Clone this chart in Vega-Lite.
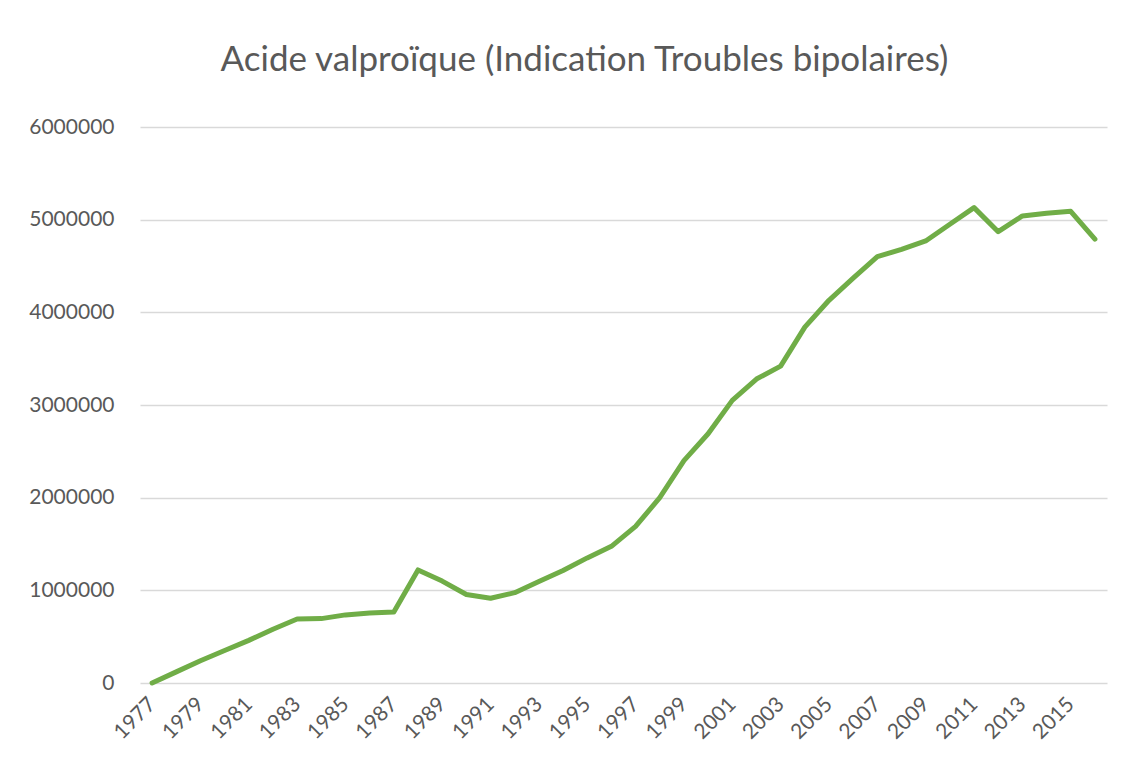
{
  "$schema": "https://vega.github.io/schema/vega-lite/v6.json",
  "width": 967,
  "height": 556,
  "autosize": {"type": "none"},
  "padding": {"left": 140, "top": 127, "right": 37, "bottom": 96},
  "background": "white",
  "title": {
    "text": "Acide valproïque (Indication Troubles bipolaires)",
    "font": "Lato",
    "fontSize": 35,
    "fontWeight": "normal",
    "color": "#595959",
    "anchor": "middle",
    "dx": -39,
    "offset": 38
  },
  "data": {
    "values": [
      {"year": 1977, "value": 0},
      {"year": 1978, "value": 120000},
      {"year": 1979, "value": 240000},
      {"year": 1980, "value": 350000},
      {"year": 1981, "value": 460000},
      {"year": 1982, "value": 580000},
      {"year": 1983, "value": 690000},
      {"year": 1984, "value": 695000},
      {"year": 1985, "value": 735000},
      {"year": 1986, "value": 755000},
      {"year": 1987, "value": 765000},
      {"year": 1988, "value": 1220000},
      {"year": 1989, "value": 1100000},
      {"year": 1990, "value": 955000},
      {"year": 1991, "value": 915000},
      {"year": 1992, "value": 975000},
      {"year": 1993, "value": 1095000},
      {"year": 1994, "value": 1215000},
      {"year": 1995, "value": 1350000},
      {"year": 1996, "value": 1475000},
      {"year": 1997, "value": 1690000},
      {"year": 1998, "value": 2000000},
      {"year": 1999, "value": 2400000},
      {"year": 2000, "value": 2690000},
      {"year": 2001, "value": 3050000},
      {"year": 2002, "value": 3280000},
      {"year": 2003, "value": 3420000},
      {"year": 2004, "value": 3840000},
      {"year": 2005, "value": 4130000},
      {"year": 2006, "value": 4370000},
      {"year": 2007, "value": 4600000},
      {"year": 2008, "value": 4680000},
      {"year": 2009, "value": 4770000},
      {"year": 2010, "value": 4950000},
      {"year": 2011, "value": 5130000},
      {"year": 2012, "value": 4870000},
      {"year": 2013, "value": 5040000},
      {"year": 2014, "value": 5070000},
      {"year": 2015, "value": 5090000},
      {"year": 2016, "value": 4790000}
    ]
  },
  "mark": {"type": "line", "color": "#70ad47", "strokeWidth": 5, "strokeCap": "round", "strokeJoin": "round"},
  "encoding": {
    "x": {
      "field": "year",
      "type": "ordinal",
      "scale": {"type": "point", "padding": 0.5},
      "axis": {
        "title": null,
        "values": [1977, 1979, 1981, 1983, 1985, 1987, 1989, 1991, 1993, 1995, 1997, 1999, 2001, 2003, 2005, 2007, 2009, 2011, 2013, 2015],
        "labelAngle": -45,
        "labelAlign": "right",
        "labelBaseline": "middle",
        "labelPadding": 18,
        "labelFont": "Lato",
        "labelFontSize": 21,
        "labelColor": "#595959",
        "domain": false,
        "ticks": false,
        "grid": false,
        "labelOverlap": false
      }
    },
    "y": {
      "field": "value",
      "type": "quantitative",
      "scale": {"domain": [0, 6000000], "nice": false},
      "axis": {
        "title": null,
        "values": [0, 1000000, 2000000, 3000000, 4000000, 5000000, 6000000],
        "format": "d",
        "labelFont": "Lato",
        "labelFontSize": 21,
        "labelColor": "#595959",
        "labelPadding": 26,
        "domain": false,
        "ticks": false,
        "grid": true,
        "gridColor": "#d9d9d9",
        "gridWidth": 1.5
      }
    }
  },
  "config": {"view": {"stroke": null}}
}
